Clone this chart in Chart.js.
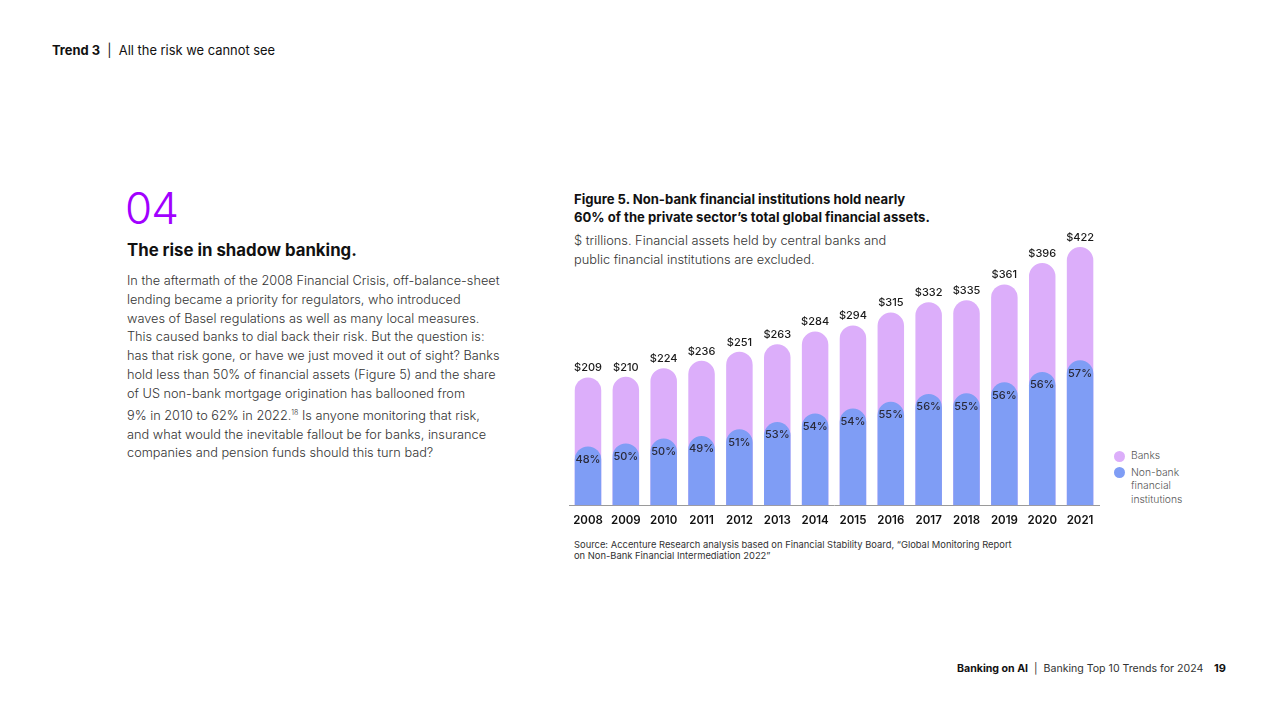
<!DOCTYPE html>
<html>
<head>
<meta charset="utf-8">
<script src="https://cdn.jsdelivr.net/npm/chart.js@4/dist/chart.umd.min.js"></script>
<style>
  body { margin: 0; width: 1280px; height: 720px; background: #fff; font-family: Inter, "Noto Sans", sans-serif; color: #222; position: relative; overflow: hidden; }
  .abs { position: absolute; white-space: nowrap; }
  .hdr { left: 52px; top: 43px; font-size: 12.9px; color: #111; }
  .num { left: 125px; top: 181px; font-size: 44px; font-weight: 300; color: #A100FF; letter-spacing: -1px; }
  .h2 { left: 127px; top: 240px; font-size: 16.8px; font-weight: 700; color: #111; }
  .para { left: 127px; top: 272px; font-size: 12.75px; line-height: 18.8px; color: #333; font-weight: 300; }
  .para sup { font-size: 7px; }
  .ftitle { left: 574px; top: 190px; font-size: 13.1px; line-height: 18px; font-weight: 700; color: #111; }
  .fsub { left: 574px; top: 231px; font-size: 12.8px; line-height: 19px; font-weight: 300; color: #333; }
  .src { left: 574px; top: 539px; font-size: 9.4px; line-height: 11px; color: #333; }
  .legend { left: 1114px; top: 449px; font-size: 10.3px; line-height: 13.5px; color: #555; font-weight: 300; }
  .legend .row { position: relative; padding-left: 17px; margin-bottom: 3px; }
  .legend .dot { position: absolute; left: 0; top: 1.5px; width: 11px; height: 11px; border-radius: 50%; }
  .foot { left: 957px; top: 662px; font-size: 10.6px; color: #333; }
  .pg { left: 1214px; top: 661px; font-size: 11px; font-weight: 700; color: #111; }
  #wrap { position: absolute; left: 565px; top: 220px; width: 540px; height: 318px; }
</style>
</head>
<body>
<div class="abs hdr"><b>Trend 3</b>&nbsp; | &nbsp;All the risk we cannot see</div>
<div class="abs num">04</div>
<div class="abs h2">The rise in shadow banking.</div>
<div class="abs para">
In the aftermath of the 2008 Financial Crisis, off-balance-sheet<br>
lending became a priority for regulators, who introduced<br>
waves of Basel regulations as well as many local measures.<br>
This caused banks to dial back their risk. But the question is:<br>
has that risk gone, or have we just moved it out of sight? Banks<br>
hold less than 50% of financial assets (Figure 5) and the share<br>
of US non-bank mortgage origination has ballooned from<br>
9% in 2010 to 62% in 2022.<sup>18</sup> Is anyone monitoring that risk,<br>
and what would the inevitable fallout be for banks, insurance<br>
companies and pension funds should this turn bad?
</div>
<div class="abs ftitle">Figure 5. Non-bank financial institutions hold nearly<br>60% of the private sector’s total global financial assets.</div>
<div class="abs fsub">$ trillions. Financial assets held by central banks and<br>public financial institutions are excluded.</div>
<div id="wrap"><canvas id="chart"></canvas></div>
<div class="abs src">Source: Accenture Research analysis based on Financial Stability Board, “Global Monitoring Report<br>on Non-Bank Financial Intermediation 2022”</div>
<div class="abs legend">
  <div class="row"><span class="dot" style="background:#DCAEFA"></span>Banks</div>
  <div class="row"><span class="dot" style="background:#7F9DF5"></span>Non-bank<br>financial<br>institutions</div>
</div>
<div class="abs foot"><b style="color:#111">Banking on AI</b>&nbsp; | &nbsp;Banking Top 10 Trends for 2024</div>
<div class="abs pg">19</div>

<script>
const years = ['2008', '2009', '2010', '2011', '2012', '2013', '2014', '2015', '2016', '2017', '2018', '2019', '2020', '2021'];
// total financial assets ($ trillions), drawn as the full purple bar
const totals = [209, 210, 224, 236, 251, 263, 284, 294, 315, 332, 335, 361, 396, 422];
// non-bank part ($ trillions), drawn over it
const nonBank = [96, 101, 109, 113, 124, 136, 150, 158, 169, 182, 183, 201, 218, 237];
const totalLabels = ['$209', '$210', '$224', '$236', '$251', '$263', '$284', '$294', '$315', '$332', '$335', '$361', '$396', '$422'];
const shareLabels = ['48%', '50%', '50%', '49%', '51%', '53%', '54%', '54%', '55%', '56%', '55%', '56%', '56%', '57%'];

const barLabels = {
  id: 'barLabels',
  afterDatasetsDraw(chart) {
    const ctx = chart.ctx;
    const blue = chart.getDatasetMeta(0).data;
    const purple = chart.getDatasetMeta(1).data;
    ctx.save();
    ctx.textAlign = 'center';
    ctx.font = '500 11px Inter, sans-serif';
    ctx.fillStyle = '#1a1a1a';
    ctx.textBaseline = 'bottom';
    purple.forEach((bar, i) => ctx.fillText(totalLabels[i], bar.x, bar.y - 4));
    ctx.fillStyle = '#2a2a3a';
    ctx.textBaseline = 'middle';
    blue.forEach((bar, i) => ctx.fillText(shareLabels[i], bar.x, bar.y + 13));
    ctx.restore();
  }
};

new Chart(document.getElementById('chart'), {
  type: 'bar',
  data: {
    labels: years,
    datasets: [
      {
        label: 'Non-bank financial institutions',
        data: nonBank,
        backgroundColor: '#7F9DF5',
        borderRadius: 20,
        borderSkipped: 'start'
      },
      {
        label: 'Banks',
        data: totals,
        backgroundColor: '#DCAEFA',
        borderRadius: 20,
        borderSkipped: 'start'
      }
    ]
  },
  options: {
    responsive: true,
    maintainAspectRatio: false,
    animation: false,
    layout: { padding: { left: 4, right: 6, top: 10, bottom: 3 } },
    datasets: { bar: { grouped: false, barPercentage: 0.7, categoryPercentage: 1 } },
    plugins: { legend: { display: false }, tooltip: { enabled: false } },
    scales: {
      x: {
        grid: { display: false, drawTicks: false },
        border: { display: true, color: '#9a9a9a', width: 1 },
        ticks: { color: '#111', padding: 8, font: { family: 'Inter', size: 11.5, weight: '600' } }
      },
      y: { display: false, min: 0, max: 450 }
    }
  },
  plugins: [barLabels]
});
</script>
</body>
</html>
